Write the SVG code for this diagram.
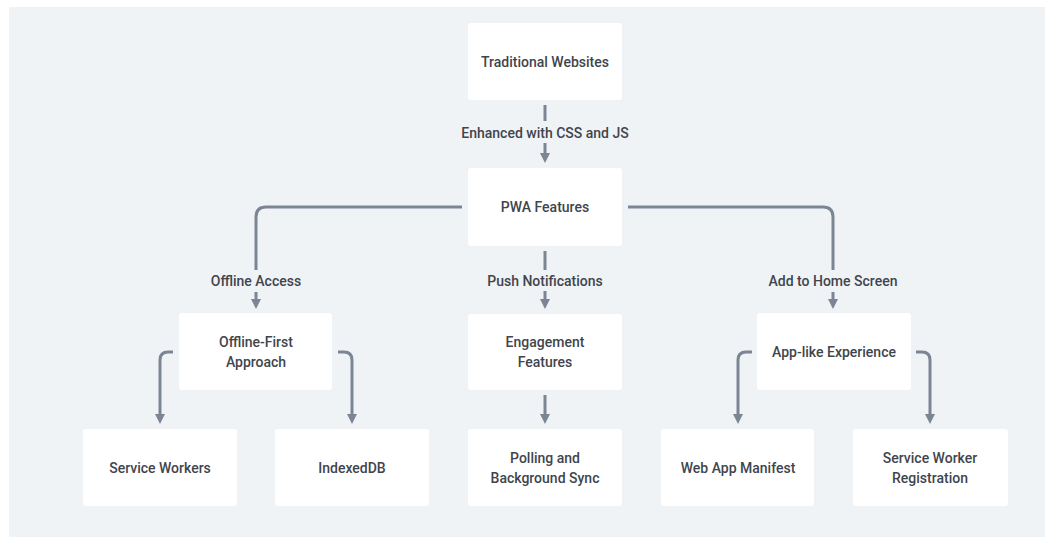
<svg xmlns="http://www.w3.org/2000/svg" width="1045" height="538" viewBox="0 0 1045 538">
  <style>
    .node rect { fill: #ffffff; }
    .node text, .lbl { font-family: Roboto, "Liberation Sans", sans-serif; font-size: 14px; font-weight: 500; fill: #3f454d; text-anchor: middle; dominant-baseline: central; }
    .edge { fill: none; stroke: #7b8593; stroke-width: 3; }
  </style>
  <defs>
    <marker id="arrow" viewBox="0 0 10 10" markerWidth="10" markerHeight="10" markerUnits="userSpaceOnUse" refX="1" refY="5" orient="auto">
      <path d="M0,0 L10,5 L0,10 z" fill="#7b8593"/>
    </marker>
  </defs>

  <!-- canvas -->
  <rect x="9" y="7" width="1036" height="530" fill="#f0f3f6"/>

  <!-- connectors -->
  <g id="connectors">
    <!-- Traditional Websites -> PWA Features -->
    <path class="edge" d="M545,105 V121"/>
    <path class="edge" d="M545,143 V154" marker-end="url(#arrow)"/>
    <!-- PWA Features -> Offline-First Approach -->
    <path class="edge" d="M462,207 H266 Q256,207 256,217 V270"/>
    <path class="edge" d="M256,292 V300" marker-end="url(#arrow)"/>
    <!-- PWA Features -> Engagement Features -->
    <path class="edge" d="M545,251 V270"/>
    <path class="edge" d="M545,291 V300" marker-end="url(#arrow)"/>
    <!-- PWA Features -> App-like Experience -->
    <path class="edge" d="M628,207 H823 Q833,207 833,217 V270"/>
    <path class="edge" d="M833,292 V300" marker-end="url(#arrow)"/>
    <!-- Offline-First Approach -> Service Workers / IndexedDB -->
    <path class="edge" d="M173,352 H168 Q160,352 160,360 V415" marker-end="url(#arrow)"/>
    <path class="edge" d="M338,352 H344 Q352,352 352,360 V415" marker-end="url(#arrow)"/>
    <!-- Engagement Features -> Polling and Background Sync -->
    <path class="edge" d="M545,395 V415" marker-end="url(#arrow)"/>
    <!-- App-like Experience -> Web App Manifest / Service Worker Registration -->
    <path class="edge" d="M752,352 H746 Q738,352 738,360 V415" marker-end="url(#arrow)"/>
    <path class="edge" d="M916,352 H922 Q930,352 930,360 V415" marker-end="url(#arrow)"/>

    <text class="lbl" x="545" y="133">Enhanced with CSS and JS</text>
    <text class="lbl" x="256" y="281">Offline Access</text>
    <text class="lbl" x="545" y="281">Push Notifications</text>
    <text class="lbl" x="833" y="281">Add to Home Screen</text>
  </g>

  <g id="traditional-websites" class="node">
    <rect x="468" y="23" width="154" height="77" rx="3"/>
    <text x="545" y="62">Traditional Websites</text>
  </g>
  <g id="pwa-features" class="node">
    <rect x="468" y="168" width="154" height="78" rx="3"/>
    <text x="545" y="207">PWA Features</text>
  </g>
  <g id="offline-first" class="node">
    <rect x="179" y="313" width="153" height="77" rx="3"/>
    <text x="256" y="342">Offline-First</text>
    <text x="256" y="362">Approach</text>
  </g>
  <g id="engagement" class="node">
    <rect x="468" y="314" width="154" height="76" rx="3"/>
    <text x="545" y="342">Engagement</text>
    <text x="545" y="362">Features</text>
  </g>
  <g id="app-like" class="node">
    <rect x="757" y="313" width="154" height="77" rx="3"/>
    <text x="834" y="352">App-like Experience</text>
  </g>
  <g id="service-workers" class="node">
    <rect x="83" y="429" width="154" height="77" rx="3"/>
    <text x="160" y="468">Service Workers</text>
  </g>
  <g id="indexeddb" class="node">
    <rect x="275" y="429" width="154" height="77" rx="3"/>
    <text x="352" y="468">IndexedDB</text>
  </g>
  <g id="polling-sync" class="node">
    <rect x="468" y="429" width="154" height="77" rx="3"/>
    <text x="545" y="458">Polling and</text>
    <text x="545" y="478">Background Sync</text>
  </g>
  <g id="web-app-manifest" class="node">
    <rect x="661" y="429" width="153" height="77" rx="3"/>
    <text x="738" y="468">Web App Manifest</text>
  </g>
  <g id="sw-registration" class="node">
    <rect x="853" y="429" width="155" height="77" rx="3"/>
    <text x="930" y="458">Service Worker</text>
    <text x="930" y="478">Registration</text>
  </g>
</svg>
